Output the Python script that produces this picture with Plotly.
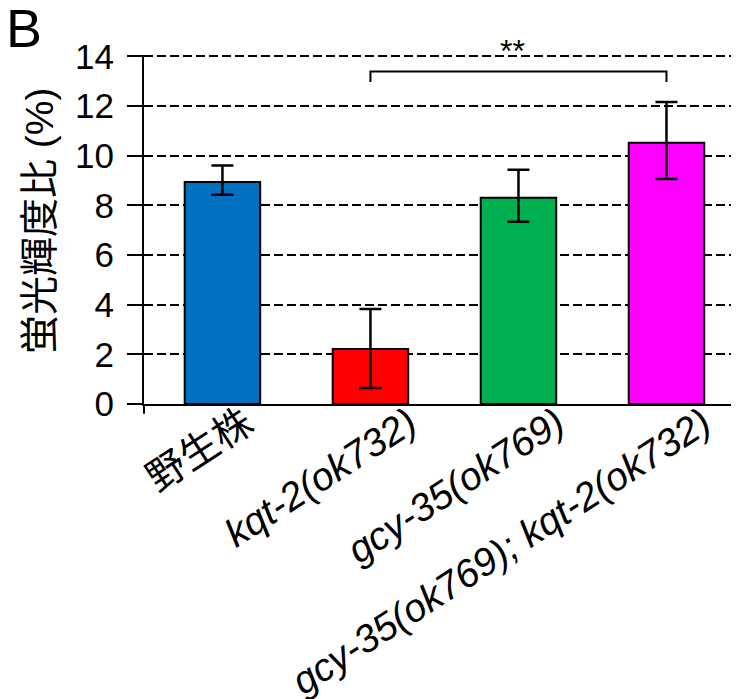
import plotly.graph_objects as go

# ---- data ----
categories = ["野生株", "<i>kqt-2(ok732)</i>", "<i>gcy-35(ok769)</i>", "<i>gcy-35(ok769); kqt-2(ok732)</i>"]
values = [8.94, 2.22, 8.31, 10.52]
err_upper = [0.67, 1.61, 1.13, 1.65]
err_lower = [0.51, 1.58, 0.97, 1.46]
bar_colors = ["#0070C0", "#FF0000", "#00B050", "#FF00FF"]
y_ticks = [0, 2, 4, 6, 8, 10, 12, 14]
y_title = "蛍光輝度比 (%)"
panel_label = "B"
sig_pair = (1, 3)
sig_level = 13.4
sig_drop = 0.43
sig_text = "**"

FONT = "Liberation Sans, Arial, Noto Sans CJK JP, sans-serif"
x_idx = list(range(len(categories)))

fig = go.Figure()
fig.add_trace(go.Bar(
    x=x_idx, y=values, width=0.51,
    marker=dict(color=bar_colors, line=dict(color="black", width=2)),
    error_y=dict(type="data", symmetric=False, array=err_upper, arrayminus=err_lower,
                 color="black", thickness=2.5, width=11),
    showlegend=False,
))

# significance bracket
a, b = sig_pair
fig.add_shape(type="path",
              path=f"M {a},{sig_level - sig_drop} L {a},{sig_level} L {b},{sig_level} L {b},{sig_level - sig_drop}",
              xref="x", yref="y", line=dict(color="black", width=2))
fig.add_annotation(x=(a + b) / 2, y=sig_level, xref="x", yref="y", text=sig_text,
                   showarrow=False, xanchor="center", yanchor="bottom", xshift=-6, yshift=0,
                   font=dict(family=FONT, size=32, color="black"))

# y axis extension below zero
fig.add_shape(type="line", xref="paper", yref="paper", x0=0, x1=0, y0=0, y1=-0.028,
              line=dict(color="black", width=2))

# rotated category labels
label_xshift = [41, 56, 56, 54]
for i, (cat, sh) in enumerate(zip(categories, label_xshift)):
    fig.add_annotation(x=i, y=0, xref="x", yref="paper", text=cat, showarrow=False,
                       xanchor="right", yanchor="top", textangle=-33, xshift=sh, yshift=7,
                       font=dict(family=FONT, size=39, color="black"))

# y title
fig.add_annotation(x=-0.1765, y=0.527, xref="paper", yref="paper", text=y_title,
                   showarrow=False, textangle=-90, xanchor="center", yanchor="middle",
                   font=dict(family=FONT, size=39, color="black"))
# panel label
fig.add_annotation(x=-0.235, y=1.17, xref="paper", yref="paper", text=panel_label,
                   showarrow=False, xanchor="left", yanchor="top",
                   font=dict(family=FONT, size=54, color="black"))

fig.update_layout(
    width=731, height=691,
    margin=dict(l=136, r=0, t=47, b=295),
    paper_bgcolor="white", plot_bgcolor="white",
    font=dict(family=FONT, color="black"),
    xaxis=dict(range=[-0.53, 3.49], showticklabels=False, ticks="", showgrid=False,
               zeroline=False, showline=True, linecolor="black", linewidth=2, fixedrange=True),
    yaxis=dict(range=[0, 14.06], tickvals=y_ticks, ticks="outside", ticklen=15, tickwidth=2,
               tickcolor="black", showline=True, linecolor="black", linewidth=2,
               showgrid=True, gridcolor="black", gridwidth=2, griddash="9px,4px",
               zeroline=False, tickfont=dict(family=FONT, size=35, color="black"),
               ticklabelstandoff=6),
)

fig.write_html("out.html")
